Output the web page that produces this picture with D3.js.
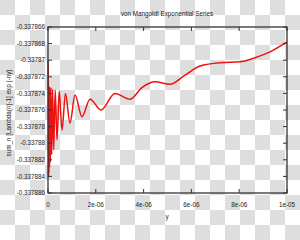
<!DOCTYPE html>
<html><head><meta charset="utf-8">
<script src="https://cdn.jsdelivr.net/npm/d3@7"></script>
<style>html,body{margin:0;padding:0;background:#fff}svg{display:block}</style>
</head><body>
<svg id="c" width="300" height="240"></svg>
<script>
const title = "von Mangoldt Exponential Series";
const xLabel = "y";
const yLabel = "sum_n [Lambda(n)-1] exp (-ny)";
const yTicks = [-0.337866,-0.337868,-0.33787,-0.337872,-0.337874,-0.337876,-0.337878,-0.33788,-0.337882,-0.337884,-0.337886];
const yTickLabels = ["-0.337866","-0.337868","-0.33787","-0.337872","-0.337874","-0.337876","-0.337878","-0.33788","-0.337882","-0.337884","-0.337886"];
const xTicks = [0,2e-6,4e-6,6e-6,8e-6,1e-5];
const xTickLabels = ["0","2e-06","4e-06","6e-06","8e-06","1e-05"];
const xs = [0,0.0125e-6,0.025e-6,0.031e-6,0.040e-6,0.050e-6,0.063e-6,0.079e-6,0.098e-6,0.121e-6,0.155e-6,0.192e-6,0.238e-6,0.301e-6,0.377e-6,0.469e-6,0.586e-6,0.73e-6,0.92e-6,1.13e-6,1.42e-6,1.76e-6,2.22e-6,2.80e-6,3.43e-6,3.93e-6,4.48e-6,5.10e-6,5.73e-6,6.36e-6,7.20e-6,8.03e-6,8.66e-6,9.29e-6,10.0e-6];
const ys = [-0.3378700,-0.3378724,-0.3378841,-0.3378731,-0.3378836,-0.3378732,-0.3378830,-0.3378733,-0.3378823,-0.3378733,-0.3378814,-0.3378735,-0.3378808,-0.3378736,-0.3378796,-0.3378737,-0.3378784,-0.3378740,-0.3378776,-0.3378742,-0.3378768,-0.3378747,-0.3378760,-0.3378740,-0.3378747,-0.3378733,-0.3378726,-0.3378729,-0.3378718,-0.3378707,-0.3378703,-0.3378702,-0.3378697,-0.3378690,-0.3378678];

const svg = d3.select("#c");
const defs = svg.append("defs");
const pat = defs.append("pattern").attr("id","chk").attr("patternUnits","userSpaceOnUse").attr("width",30).attr("height",30);
pat.append("rect").attr("width",30).attr("height",30).attr("fill","#ffffff");
pat.append("rect").attr("x",0).attr("y",0).attr("width",15).attr("height",15).attr("fill","#dedede");
pat.append("rect").attr("x",15).attr("y",15).attr("width",15).attr("height",15).attr("fill","#dedede");
svg.append("rect").attr("width",300).attr("height",240).attr("fill","url(#chk)");

const L=48,R=287,T=27,B=193;
const x = d3.scaleLinear().domain([0,1e-5]).range([L,R]);
const y = d3.scaleLinear().domain([-0.337886,-0.337866]).range([B,T]);
const font = "Liberation Sans, Arial, sans-serif";
const tc = "#222";
const fs = 6.3;

// curve
const line = d3.line().x(d=>x(d[0])).y(d=>y(d[1])).curve(d3.curveMonotoneX);
svg.append("path").datum(xs.map((v,i)=>[v,ys[i]])).attr("d",line)
  .attr("fill","none").attr("stroke","#ee1111").attr("stroke-width",1.5);

// frame and inward ticks
const g = svg.append("g").attr("stroke","#333").attr("stroke-width",1);
xTicks.forEach(t=>{
  g.append("line").attr("x1",x(t)).attr("x2",x(t)).attr("y1",B).attr("y2",B-4);
  g.append("line").attr("x1",x(t)).attr("x2",x(t)).attr("y1",T).attr("y2",T+4);
});
yTicks.forEach(t=>{
  g.append("line").attr("x1",L).attr("x2",L+4).attr("y1",y(t)).attr("y2",y(t));
  g.append("line").attr("x1",R).attr("x2",R-4).attr("y1",y(t)).attr("y2",y(t));
});
svg.append("rect").attr("x",L).attr("y",T).attr("width",R-L).attr("height",B-T)
  .attr("fill","none").attr("stroke","#333").attr("stroke-width",1.3);

// labels
yTicks.forEach((t,i)=>{
  svg.append("text").attr("x",45).attr("y",y(t)+2.2).attr("text-anchor","end")
    .attr("font-family",font).attr("font-size",fs).attr("fill",tc).text(yTickLabels[i]);
});
xTicks.forEach((t,i)=>{
  svg.append("text").attr("x",x(t)).attr("y",206.5).attr("text-anchor","middle")
    .attr("font-family",font).attr("font-size",fs).attr("fill",tc).text(xTickLabels[i]);
});
svg.append("text").attr("x",167).attr("y",16).attr("text-anchor","middle")
  .attr("font-family",font).attr("font-size",fs).attr("fill",tc).text(title);
svg.append("text").attr("x",167).attr("y",219).attr("text-anchor","middle")
  .attr("font-family",font).attr("font-size",fs).attr("fill",tc).text(xLabel);
svg.append("text").attr("transform","translate(11,113) rotate(-90)").attr("text-anchor","middle")
  .attr("font-family",font).attr("font-size",fs).attr("fill",tc).text(yLabel);
</script>
</body></html>
